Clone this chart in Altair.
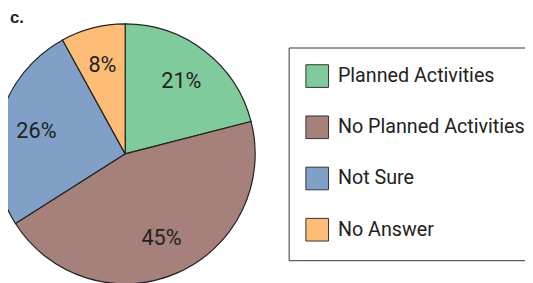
import altair as alt
import pandas as pd

categories = ["Planned Activities", "No Planned Activities", "Not Sure", "No Answer"]
values = [21, 45, 26, 8]
labels = ["21%", "45%", "26%", "8%"]
colors = ["#80CB9B", "#A6807B", "#80A0C8", "#FDBD76"]
panel_tag = ["c."]

df = pd.DataFrame({
    "category": categories,
    "value": values,
    "label": labels,
    "idx": list(range(len(categories))),
})

FONT = "Roboto, sans-serif"
CX, CY, R = 119, 146, 132

base = alt.Chart(df).encode(
    theta=alt.Theta("value:Q", stack=True),
    order=alt.Order("idx:Q"),
)

pie = base.mark_arc(radius=R, stroke="#222222", strokeWidth=1.2).encode(
    x=alt.value(CX),
    y=alt.value(CY),
    color=alt.Color(
        "category:N",
        sort=categories,
        scale=alt.Scale(domain=categories, range=colors),
        legend=alt.Legend(
            orient="none",
            legendX=285,
            legendY=38,
            title=None,
            symbolType="square",
            symbolSize=529,
            symbolStrokeColor="#333333",
            symbolStrokeWidth=1,
            symbolOpacity=1,
            labelFontSize=20,
            labelFont=FONT,
            labelColor="#222222",
            labelOffset=9,
            labelLimit=400,
            rowPadding=24,
            padding=17,
            strokeColor="#333333",
        ),
    ),
)

text = base.mark_text(
    radius=93, fontSize=22, font=FONT, color="#222222", baseline="middle", align="center"
).encode(
    x=alt.value(CX),
    y=alt.value(CY),
    text="label:N",
)

tag = alt.Chart(pd.DataFrame({"t": panel_tag})).mark_text(
    font="Liberation Sans, Arial, sans-serif",
    fontSize=17,
    fontWeight="bold",
    color="#222222",
    align="left",
    baseline="alphabetic",
).encode(x=alt.value(2), y=alt.value(13), text="t:N")

chart = alt.layer(pie, text, tag).properties(
    width=525,
    height=275,
    autosize=alt.AutoSizeParams(type="none"),
    padding=0,
).configure_view(stroke=None)

chart.save("out.html", embed_options={"renderer": "svg", "actions": False})
